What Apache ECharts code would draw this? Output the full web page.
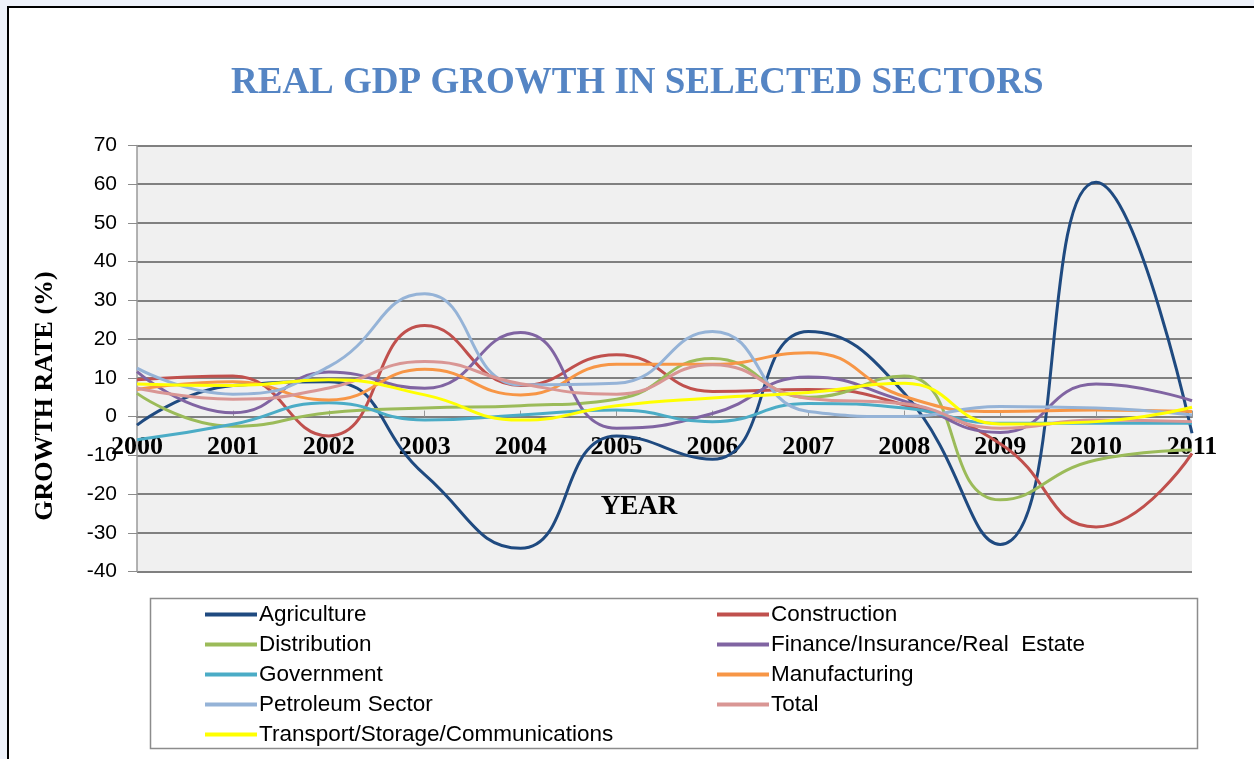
<!DOCTYPE html>
<html>
<head>
<meta charset="utf-8">
<title>Real GDP Growth in Selected Sectors</title>
<script src="https://cdn.jsdelivr.net/npm/echarts@6/dist/echarts.min.js"></script>
<style>
  html, body { margin: 0; padding: 0; width: 1254px; height: 759px; overflow: hidden; background: #eef2fa; }
  #frame { position: absolute; left: 7px; top: 6px; width: 1270px; height: 780px; border: 2px solid #000; background: #fff; }
  #chart { position: absolute; left: 0; top: 0; width: 1254px; height: 759px; }
</style>
</head>
<body>
<div id="frame"></div>
<div id="chart"></div>
<script>
// Years on the category axis
const years = ['2000', '2001', '2002', '2003', '2004', '2005', '2006', '2007', '2008', '2009', '2010', '2011'];

// Growth rate (%) per sector
const agriculture   = [-2.2, 8, 9, -15, -34, -5, -11, 22, 6, -33, 60.5, -4.3];
const construction  = [9.5, 10.5, -5, 23.5, 8, 16, 6.5, 7, 3, -7, -28.5, -9.5];
const distribution  = [6, -2.5, 1, 2.2, 2.8, 4.5, 15, 5, 10.5, -21.5, -11.2, -8.6];
const finance       = [11.6, 1, 11.5, 7.3, 21.7, -3, 0.8, 10.2, 4, -4.1, 8.4, 4.1];
const government    = [-6, -2, 3.6, -0.9, 0.4, 1.7, -1.3, 3.4, 2.2, -1.7, -1.7, -1.7];
const manufacturing = [7, 9, 4.3, 12.2, 5.6, 13.5, 13.5, 16.5, 5.2, 1.3, 1.7, 1.3];
const petroleum     = [12.5, 5.8, 12.9, 31.7, 8.2, 8.6, 22, 1.3, 0, 2.6, 2.2, 0.4];
const total         = [7.4, 4.5, 7.4, 14.2, 8.5, 5.8, 13.4, 4.7, 3.3, -3, -0.9, -1.3];
const transport     = [8.4, 8, 9.5, 5.6, -0.9, 2.8, 4.8, 6.2, 8.6, -1.9, -1.3, 2.4];

// Y axis range and step
const yMin = -40, yMax = 70, yStep = 10;

const sectors = [
  { name: 'Agriculture', data: agriculture, color: '#1F4A80' },
  { name: 'Construction', data: construction, color: '#C0504D' },
  { name: 'Distribution', data: distribution, color: '#9BBB59' },
  { name: 'Finance/Insurance/Real  Estate', data: finance, color: '#8064A2' },
  { name: 'Government', data: government, color: '#4BACC6' },
  { name: 'Manufacturing', data: manufacturing, color: '#F79646' },
  { name: 'Petroleum Sector', data: petroleum, color: '#95B3D7' },
  { name: 'Total', data: total, color: '#D99694' },
  { name: 'Transport/Storage/Communications', data: transport, color: '#FFFF00' }
];

// Plot area geometry
const gridLeft = 137, gridTop = 145.5, gridWidth = 1055, gridHeight = 426;
// The category axis sits on the zero line of the value axis
const zeroOffset = gridHeight * (0 - yMin) / (yMax - yMin);

const chart = echarts.init(document.getElementById('chart'));

const legendCommon = {
  orient: 'vertical',
  icon: 'rect',
  itemWidth: 52,
  itemHeight: 4,
  itemGap: 7,
  textStyle: { fontFamily: 'Liberation Sans, Arial, sans-serif', fontSize: 22.5, color: '#000', lineHeight: 22, padding: [0, 0, 0, -3] },
  selectedMode: false
};

const serifBold = { fontFamily: 'Liberation Serif, Times New Roman, serif', fontWeight: 'bold', fill: '#000' };

chart.setOption({
  animation: false,
  title: {
    text: 'REAL GDP GROWTH IN SELECTED SECTORS',
    left: 226,
    top: 60,
    textStyle: { fontFamily: 'Liberation Serif, Times New Roman, serif', fontWeight: 'bold', fontSize: 37, color: '#5585C4' }
  },
  graphic: [
    {
      type: 'rect',
      shape: { x: 150.5, y: 598.5, width: 1047, height: 150 },
      style: { fill: '#fff', stroke: '#8c8c8c', lineWidth: 1.5 },
      z: -1
    },
    {
      type: 'text',
      x: 45, y: 396,
      rotation: Math.PI / 2,
      style: Object.assign({ text: 'GROWTH RATE (%)', fontSize: 26, align: 'center', verticalAlign: 'middle' }, serifBold)
    },
    {
      type: 'text',
      x: 639, y: 507,
      style: Object.assign({ text: 'YEAR', fontSize: 27, align: 'center', verticalAlign: 'middle' }, serifBold)
    }
  ],
  legend: [
    Object.assign({}, legendCommon, {
      left: 200, top: 598,
      data: ['Agriculture', 'Distribution', 'Government', 'Petroleum Sector', 'Transport/Storage/Communications']
    }),
    Object.assign({}, legendCommon, {
      left: 712, top: 598,
      data: ['Construction', 'Finance/Insurance/Real  Estate', 'Manufacturing', 'Total']
    })
  ],
  grid: {
    left: gridLeft, top: gridTop, width: gridWidth, height: gridHeight,
    show: true, backgroundColor: '#f0f0f0', borderWidth: 0,
    containLabel: false
  },
  xAxis: {
    type: 'category',
    data: years,
    boundaryGap: false,
    position: 'bottom',
    offset: -zeroOffset,
    axisLine: { onZero: false, lineStyle: { color: '#808080', width: 2 } },
    axisTick: { show: true, inside: true, length: 6, lineStyle: { color: '#999' } },
    axisLabel: { margin: 18, fontFamily: 'Liberation Serif, Times New Roman, serif', fontWeight: 'bold', fontSize: 26, color: '#000' },
    splitLine: { show: false }
  },
  yAxis: {
    type: 'value',
    min: yMin, max: yMax, interval: yStep,
    axisLine: { show: true, lineStyle: { color: '#9a9a9a', width: 1.5 } },
    axisTick: { show: true, length: 9, lineStyle: { color: '#8c8c8c' } },
    axisLabel: { margin: 20, fontFamily: 'Liberation Sans, Arial, sans-serif', fontSize: 21, color: '#000' },
    splitLine: { show: true, lineStyle: { color: '#808080', width: 2 } }
  },
  series: sectors.map(s => ({
    name: s.name,
    type: 'line',
    data: s.data,
    smooth: 0.5,
    symbol: 'none',
    color: s.color,
    lineStyle: { width: 3, color: s.color },
    z: 3
  }))
});
</script>
</body>
</html>
